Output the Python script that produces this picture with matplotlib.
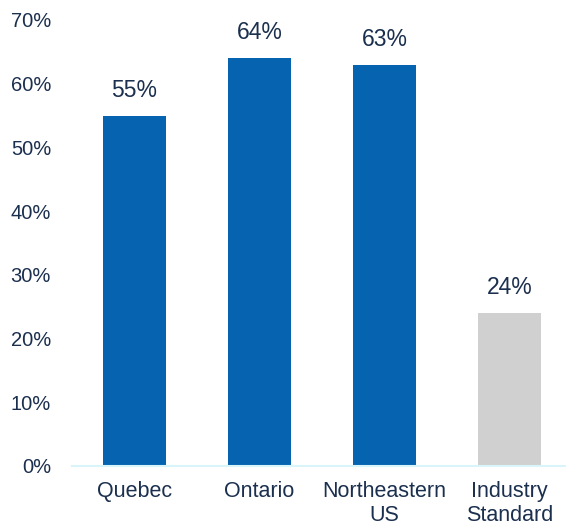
import matplotlib
matplotlib.use("Agg")
import matplotlib.pyplot as plt

categories = ["Quebec", "Ontario", "Northeastern\nUS", "Industry\nStandard"]
values = [0.55, 0.64, 0.63, 0.24]
labels = ["55%", "64%", "63%", "24%"]
colors = ["#0563B0", "#0563B0", "#0563B0", "#D0D0D0"]
yticks = [0, 0.1, 0.2, 0.3, 0.4, 0.5, 0.6, 0.7]
ytick_labels = ["0%", "10%", "20%", "30%", "40%", "50%", "60%", "70%"]

plt.rcParams['font.family'] = ['Liberation Sans', 'DejaVu Sans']
text_color = "#1B2F4E"

fig = plt.figure(figsize=(5.66, 5.25), dpi=100)
ax = fig.add_axes([0.127, 0.1124, 0.873, 0.8496])
x = range(len(categories))
bars = ax.bar(x, values, width=0.5, color=colors, zorder=2)
for xi, v, lab in zip(x, values, labels):
    ax.text(xi, v + 0.04, lab, ha="center", va="center", fontsize=16.5, color=text_color)

ax.set_xlim(-0.5, 3.452)
ax.set_ylim(0, 0.7)
ax.set_yticks(yticks)
ax.set_yticklabels(ytick_labels)
ax.set_xticks(list(x))
ax.set_xticklabels(categories)
ax.tick_params(axis="both", length=0, colors=text_color)
ax.tick_params(axis="y", pad=15, labelsize=14.5)
ax.tick_params(axis="x", pad=11, labelsize=15.5)
for s in ["top", "right", "left"]:
    ax.spines[s].set_visible(False)
ax.spines["bottom"].set_color("#D9F5FA")
ax.spines["bottom"].set_linewidth(1.5)
for t in ax.get_xticklabels():
    t.set_linespacing(1.2)

fig.savefig("out.png", dpi=100)
